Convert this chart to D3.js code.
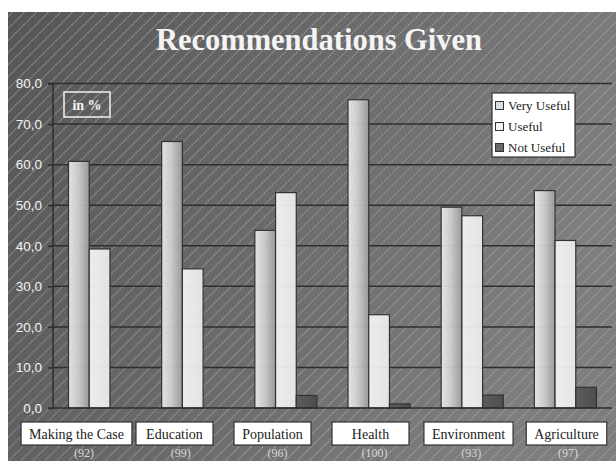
<!DOCTYPE html>
<html><head><meta charset="utf-8">
<script src="https://cdn.jsdelivr.net/npm/d3@7"></script>
<style>html,body{margin:0;padding:0;background:#fff;overflow:hidden}</style>
</head><body>
<svg id="c" width="616" height="461"></svg>
<script>
const categories = ["Making the Case","Education","Population","Health","Environment","Agriculture"];
const counts = ["(92)","(99)","(96)","(100)","(93)","(97)"];
const series = ["Very Useful","Useful","Not Useful"];
const veryUseful = [60.8, 65.7, 43.8, 76.0, 49.5, 53.6];
const useful     = [39.2, 34.3, 53.1, 23.0, 47.4, 41.3];
const notUseful  = [0, 0, 3.1, 1.0, 3.2, 5.1];
const yTicks = [0,10,20,30,40,50,60,70,80];
const title = "Recommendations Given";
const unitLabel = "in %";

const svg = d3.select("#c");
const W = 616, H = 461;
const defs = svg.append("defs");

// background gradient + stripes
const bg = defs.append("linearGradient").attr("id","bg").attr("x1","0").attr("x2","1").attr("y1","0").attr("y2","0.3");
bg.append("stop").attr("offset","0").attr("stop-color","#565656");
bg.append("stop").attr("offset","1").attr("stop-color","#7e7e7e");
const pat = defs.append("pattern").attr("id","stripes").attr("patternUnits","userSpaceOnUse")
  .attr("width",8.5).attr("height",8.5).attr("patternTransform","rotate(45)");
pat.append("line").attr("x1",0.5).attr("y1",0).attr("x2",0.5).attr("y2",8.5)
  .attr("stroke","#b4b4b4").attr("stroke-width",0.9).attr("stroke-dasharray","1.6 1.2").attr("opacity",0.85);

const gVU = defs.append("linearGradient").attr("id","gVU");
gVU.append("stop").attr("offset","0").attr("stop-color","#ececec");
gVU.append("stop").attr("offset","0.45").attr("stop-color","#d2d2d2");
gVU.append("stop").attr("offset","1").attr("stop-color","#9c9c9c");
const gU = defs.append("linearGradient").attr("id","gU");
gU.append("stop").attr("offset","0").attr("stop-color","#f6f6f6");
gU.append("stop").attr("offset","1").attr("stop-color","#ececec");
const gNU = defs.append("linearGradient").attr("id","gNU");
gNU.append("stop").attr("offset","0").attr("stop-color","#5a5a5a");
gNU.append("stop").attr("offset","1").attr("stop-color","#4a4a4a");
const fills = ["url(#gVU)","url(#gU)","url(#gNU)"];
const legendFills = ["#dcdcdc","#f4f4f4","#6a6a6a"];

svg.append("rect").attr("x",8).attr("y",12).attr("width",W-8).attr("height",H-12).attr("fill","url(#bg)");
svg.append("rect").attr("x",8).attr("y",12).attr("width",W-8).attr("height",H-12).attr("fill","url(#stripes)");

// title
svg.append("text").attr("x",319).attr("y",50).attr("text-anchor","middle")
  .attr("font-family","'Liberation Serif','Times New Roman',serif").attr("font-weight","bold")
  .attr("font-size",30.5).attr("fill","#f4f4f4").text(title);

// scales
const plotL = 53, plotR = 612, y0 = 408, y80 = 83.5;
const y = d3.scaleLinear().domain([0,80]).range([y0,y80]);
const x0 = d3.scaleBand().domain(categories).range([plotL,plotR]).paddingInner(0.333).paddingOuter(0.1665);
const x1 = d3.scaleBand().domain(series).range([0,x0.bandwidth()]);

// gridlines
svg.append("g").selectAll("line").data(yTicks.filter(t=>t>0)).join("line")
  .attr("x1",plotL).attr("x2",plotR).attr("y1",d=>y(d)).attr("y2",d=>y(d))
  .attr("stroke","#2e2e2e").attr("stroke-width",1.5);

// y axis
const yAxis = d3.axisLeft(y).tickValues(yTicks).tickSize(5).tickPadding(6)
  .tickFormat(d=>d3.format(".1f")(d).replace(".",","));
const ga = svg.append("g").attr("transform",`translate(${plotL},0)`).call(yAxis);
ga.select(".domain").attr("stroke","#2e2e2e").attr("stroke-width",1.5).attr("d",`M-5,${y80}H0V${y0}`);
ga.selectAll(".tick line").attr("stroke","#2e2e2e").attr("stroke-width",1.5);
ga.selectAll(".tick text").attr("fill","#f2f2f2").attr("font-family","'Liberation Sans',Arial,sans-serif")
  .attr("font-size",13.5).attr("x",-11);

// bars
const data = categories.map((c,i)=>({c, vals:[veryUseful[i],useful[i],notUseful[i]]}));
const gb = svg.append("g");
data.forEach(d=>{
  d.vals.forEach((v,j)=>{
    if (v<=0) return;
    gb.append("rect").attr("x",x0(d.c)+x1(series[j])).attr("y",y(v))
      .attr("width",x1.bandwidth()).attr("height",y(0)-y(v))
      .attr("fill",fills[j]).attr("stroke","#333").attr("stroke-width",1.2).attr("fill-opacity",0.93);
  });
});

// x axis baseline
svg.append("line").attr("x1",plotL-5).attr("x2",plotR).attr("y1",y0).attr("y2",y0)
  .attr("stroke","#2e2e2e").attr("stroke-width",1.5);

// in % box
svg.append("rect").attr("x",64).attr("y",92).attr("width",46).attr("height",25)
  .attr("fill","none").attr("stroke","#f2f2f2").attr("stroke-width",1.5);
svg.append("text").attr("x",87).attr("y",109.5).attr("text-anchor","middle")
  .attr("font-family","'Liberation Serif','Times New Roman',serif").attr("font-weight","bold")
  .attr("font-size",14).attr("fill","#f4f4f4").text(unitLabel);

// legend
const lg = svg.append("g");
lg.append("rect").attr("x",492).attr("y",93).attr("width",83).attr("height",64)
  .attr("fill","#fff").attr("stroke","#333").attr("stroke-width",1.2);
series.forEach((s,i)=>{
  const cy = 105.5 + i*21;
  lg.append("rect").attr("x",495.5).attr("y",cy-4).attr("width",8).attr("height",8)
    .attr("fill",legendFills[i]).attr("stroke","#333").attr("stroke-width",1);
  lg.append("text").attr("x",508).attr("y",cy+4.5)
    .attr("font-family","'Liberation Serif','Times New Roman',serif").attr("font-size",13)
    .attr("fill","#222").text(s);
});

// category label boxes
const xl = d3.scalePoint().domain(categories).range([76.5,566.5]);
const xc = d3.scalePoint().domain(categories).range([84,568]);
const gl = svg.append("g");
categories.forEach((c,i)=>{
  const g = gl.append("g");
  const r = g.append("rect").attr("y",422).attr("height",23).attr("fill","#fff").attr("stroke","#333").attr("stroke-width",1.2);
  const t = g.append("text").attr("x",xl(c)).attr("y",438.5).attr("text-anchor","middle")
    .attr("font-family","'Liberation Serif','Times New Roman',serif").attr("font-size",14)
    .attr("fill","#222").text(c);
  const tw = t.node().getComputedTextLength();
  const bw = Math.max(77, tw+16);
  r.attr("x",xl(c)-bw/2).attr("width",bw);
  gl.append("text").attr("x",xc(c)).attr("y",457).attr("text-anchor","middle")
    .attr("font-family","'Liberation Serif','Times New Roman',serif").attr("font-size",12)
    .attr("fill","#d8d8d8").text(counts[i]);
});
</script>
</body></html>
